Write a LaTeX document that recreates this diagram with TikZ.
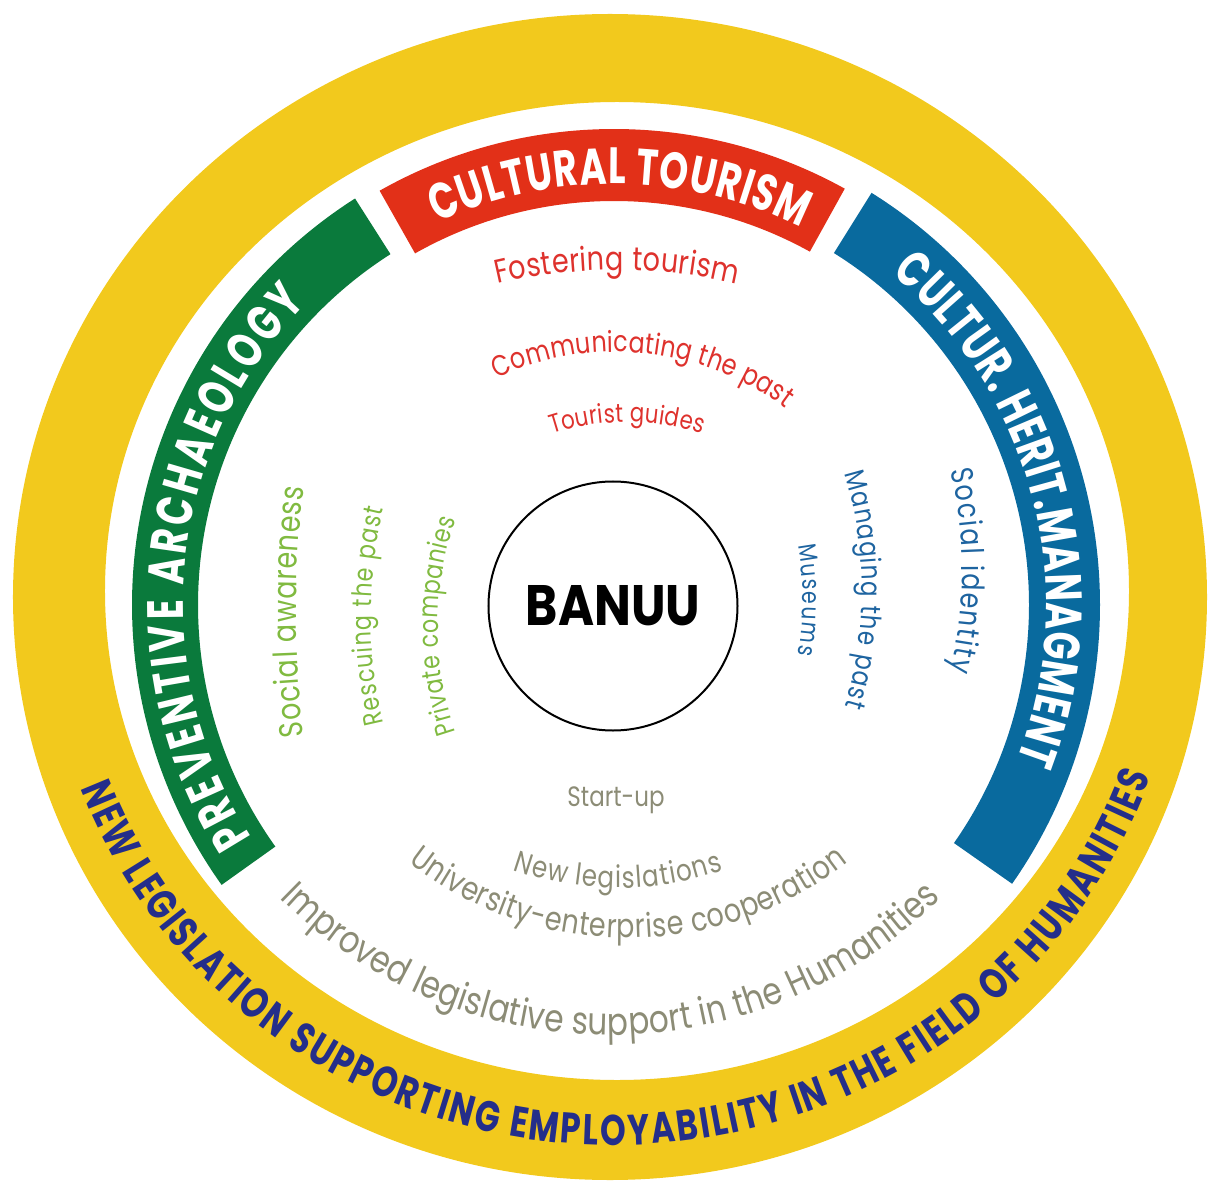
\documentclass[tikz,border=0pt]{standalone}
\usepackage{fontspec}
\usetikzlibrary{decorations.text}
\newfontfamily\bandfont[FakeStretch=0.72]{Poppins}
\newfontfamily\navyfont[FakeStretch=0.76]{Poppins}
\newfontfamily\innerfont[FakeStretch=0.82]{Poppins}
\newfontfamily\banuufont{Poppins}
\definecolor{ringyellow}{RGB}{242,201,29}
\definecolor{greenband}{RGB}{10,122,60}
\definecolor{redband}{RGB}{226,48,24}
\definecolor{blueband}{RGB}{9,106,158}
\definecolor{navytext}{RGB}{36,46,138}
\definecolor{redtext}{RGB}{222,50,45}
\definecolor{greentext}{RGB}{128,186,64}
\definecolor{bluetext}{RGB}{30,100,160}
\definecolor{graytext}{RGB}{140,140,118}
\newcommand\fs[1]{\fontsize{#1}{#1}\selectfont}
\newcommand\fBand{\bandfont\bfseries\fs{51}\color{white}}
\newcommand\fNavy{\navyfont\bfseries\fs{43}\color{navytext}}
\newcommand\fRed{\innerfont\color{redtext}}
\newcommand\fGreen{\innerfont\color{greentext}}
\newcommand\fBlue{\innerfont\color{bluetext}}
\newcommand\fGray{\innerfont\color{graytext}}
\tikzset{
  arctext/.style={decorate, decoration={text along path, text align={fit to path}, text={#1}}}
}
% #1,#2 centre, #3 radius, #4 start angle, #5 end angle, #6 text
\newcommand\ArcText[6]{\path[arctext={#6}] ([shift={(#1,#2)}]#4:#3) arc[start angle=#4, end angle=#5, radius=#3];}
\begin{document}
\begin{tikzpicture}[x=1pt, y=1pt]
\useasboundingbox (-614,-578) rectangle (595,605);
% outer yellow ring
\fill[ringyellow, even odd rule] (-4,8) ellipse [x radius=597, y radius=583] (3,14) ellipse [x radius=512, y radius=489];
% coloured bands
\fill[greenband] (122.5:482) arc[start angle=122.5, end angle=215.5, radius=482] -- (215.5:416) arc[start angle=215.5, end angle=122.5, radius=416] -- cycle;
\fill[redband] (61:476) arc[start angle=61, end angle=119.5, radius=476] -- (119.5:404) arc[start angle=119.5, end angle=61, radius=404] -- cycle;
\fill[blueband] (-35:486) arc[start angle=-35, end angle=58, radius=486] -- (58:415) arc[start angle=58, end angle=-35, radius=415] -- cycle;
% band labels
\ArcText{0}{0}{421}{114.8}{63.6}{|\fBand|CULTURAL TOURISM}
\ArcText{0}{0}{431}{212.7}{135.6}{|\fBand|PREVENTIVE ARCHAEOLOGY}
\ArcText{0}{0}{432}{50}{-21}{|\fBand|CULTUR. HERIT.MANAGMENT}
% outer ring text
\path[arctext={|\fNavy|NEW LEGISLATION SUPPORTING EMPLOYABILITY IN THE FIELD OF HUMANITIES}]
  ([shift={(-0.5,11)}]200.7:569.5 and 551) arc[start angle=200.7, end angle=340.7, x radius=569.5, y radius=551];
% centre
\node[draw=black, line width=2pt, circle, minimum size=249pt, inner sep=0pt,
  font=\banuufont\bfseries\fs{57}] (banuu) at (-1,-1) {\scalebox{0.86}[1]{BANUU}};
% red items
\ArcText{3}{-186}{521}{103.3}{76.7}{|\fRed\fs{33}|Fostering tourism}
\ArcText{2}{-31}{284}{114.8}{53.4}{|\fRed\fs{29}|Communicating the past}
\ArcText{13}{-57}{240}{108.2}{71.8}{|\fRed\fs{26}|Tourist guides}
% green items
\ArcText{682}{-7}{1000}{187.16}{172.84}{|\fGreen\fs{33}|Social awareness}
\ArcText{217}{-11}{460}{193.5}{166.5}{|\fGreen\fs{27}|Rescuing the past}
\ArcText{154}{-21}{330}{198.8}{161.2}{|\fGreen\fs{27}|Private companies}
% blue items
\ArcText{-111}{5}{300}{10.5}{-10.5}{|\fBlue\fs{25}|Museums}
\ArcText{-152}{15}{400}{16.9}{-16.9}{|\fBlue\fs{28}|Managing the past}
\ArcText{-102}{34}{450}{12.9}{-12.9}{|\fBlue\fs{31}|Social identity}
% grey items
\node[font=\innerfont\fs{28}, text=graytext] (startup) at (2,-195) {Start-up};
\ArcText{4}{32}{315}{250.5}{289.5}{|\fGray\fs{30}|New legislations}
\ArcText{14}{24}{357}{232}{308}{|\fGray\fs{33}|University-enterprise cooperation}
\ArcText{-4}{37}{467}{225}{315}{|\fGray\fs{38}|Improved legislative support in the Humanities}
\end{tikzpicture}
\end{document}
